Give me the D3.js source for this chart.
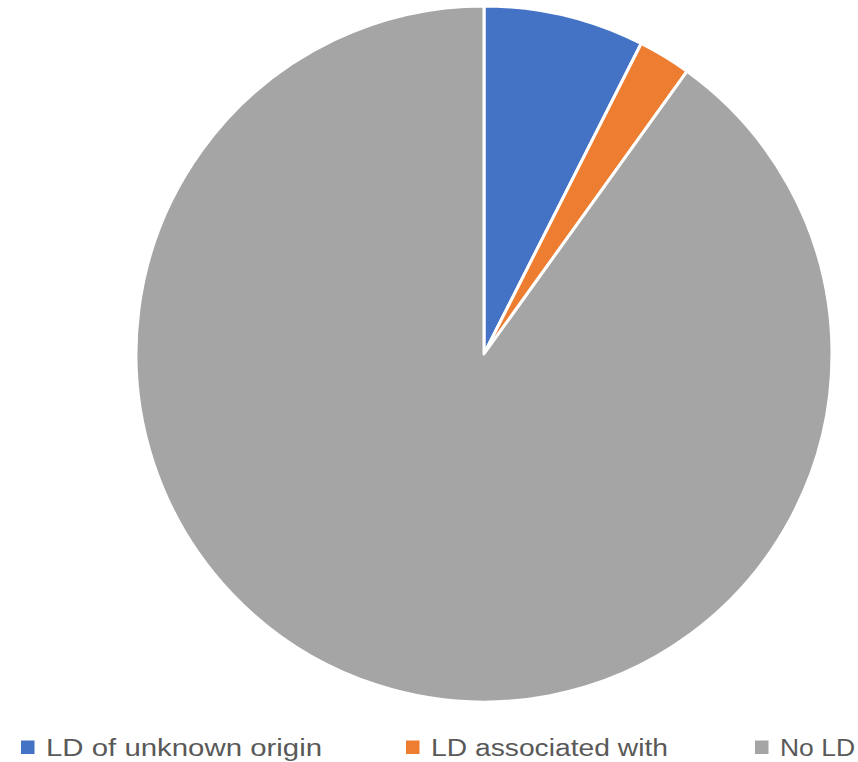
<!DOCTYPE html>
<html><head><meta charset="utf-8">
<script src="https://cdn.jsdelivr.net/npm/d3@7"></script>
<style>html,body{margin:0;padding:0;background:#fff;overflow:hidden}</style>
</head><body>
<svg id="chart" width="858" height="762"></svg>
<script>
const categories = ["LD of unknown origin", "LD associated with", "No LD"];
const values = [7.46, 2.45, 90.09];
const colors = ["#4472C4", "#ED7D31", "#A5A5A5"];

const svg = d3.select("#chart");
const cx = 484, cy = 354, r = 348;
const pie = d3.pie().sort(null).value(d => d.v);
const arc = d3.arc().innerRadius(0).outerRadius(r);
const data = categories.map((c, i) => ({c, v: values[i], col: colors[i]}));

svg.append("g").attr("transform", `translate(${cx},${cy})`)
  .selectAll("path").data(pie(data)).join("path")
  .attr("d", arc).attr("fill", d => d.data.col)
  .attr("stroke", "#fff").attr("stroke-width", 3).attr("stroke-linejoin", "round");

const legX = [21, 406, 755];
const legW = [276, 237, 75];
const lg = svg.append("g");
data.forEach((d, i) => {
  lg.append("rect").attr("x", legX[i]).attr("y", 740.5).attr("width", 13.5).attr("height", 13.5).attr("fill", d.col);
  lg.append("text").attr("x", legX[i] + 25).attr("y", 756)
    .attr("font-family", "'Liberation Sans Narrow', 'Liberation Sans', Arial, sans-serif")
    .attr("font-size", 23).attr("fill", "#595959")
    .attr("textLength", legW[i]).attr("lengthAdjust", "spacingAndGlyphs")
    .text(d.c);
});
</script>
</body></html>
